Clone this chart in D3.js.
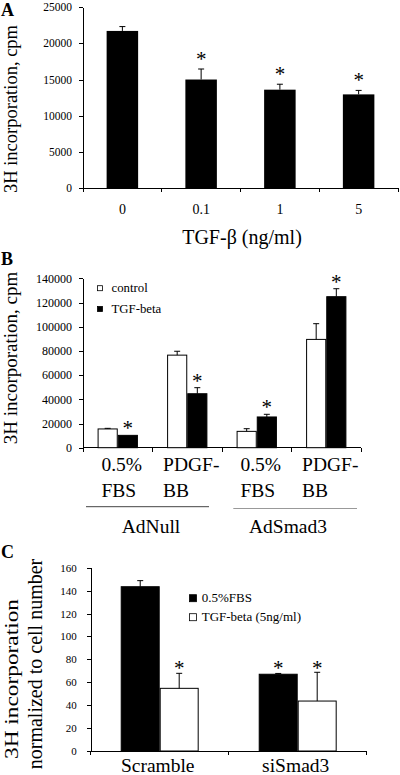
<!DOCTYPE html>
<html>
<head>
<meta charset="utf-8">
<script src="https://cdn.jsdelivr.net/npm/d3@7/dist/d3.min.js"></script>
<style>
  html, body { margin: 0; padding: 0; background: #fff; }
  svg { display: block; }
  svg text { font-family: "Liberation Serif", "Times New Roman", Times, serif; }
  .axis path, .axis line { stroke: #000; stroke-width: 1; shape-rendering: crispEdges; }
</style>
</head>
<body>
<svg id="chart" width="400" height="775"></svg>
<script>
// ---------- Panel A data ----------
const A_categories = ["0", "0.1", "1", "5"];
const A_values = [21700, 15000, 13600, 12950];
const A_errors = [600, 1450, 750, 550];
const A_sig = [false, true, true, true];
const A_yTicks = [0, 5000, 10000, 15000, 20000, 25000];
const A_xTitle = "TGF-β (ng/ml)";
const A_yTitle = "3H incorporation, cpm";

// ---------- Panel B data ----------
const B_labels = [["0.5%", "FBS"], ["PDGF-", "BB"], ["0.5%", "FBS"], ["PDGF-", "BB"]];
const B_series = ["control", "TGF-beta"];
const B_control = [15500, 76500, 13500, 89500];
const B_controlErr = [500, 3200, 2200, 13000];
const B_tgf = [10200, 44600, 25400, 124800];
const B_tgfErr = [0, 5000, 2200, 6600];
const B_tgfSig = [true, true, true, true];
const B_vectors = ["AdNull", "AdSmad3"];
const B_yTicks = [0, 20000, 40000, 60000, 80000, 100000, 120000, 140000];
const B_yTitle = "3H incorporation, cpm";

// ---------- Panel C data ----------
const C_categories = ["Scramble", "siSmad3"];
const C_series = ["0.5%FBS", "TGF-beta (5ng/ml)"];
const C_fbs = [143.4, 67];
const C_fbsErr = [5.3, 0.7];
const C_fbsSig = [false, true];
const C_tgf = [54.7, 43.6];
const C_tgfErr = [13.1, 25.1];
const C_tgfSig = [true, true];
const C_yTicks = [0, 20, 40, 60, 80, 100, 120, 140, 160];
const C_yTitle = ["3H incorporation", "normalized to cell number"];

const FONT = '"Liberation Serif", "Times New Roman", Times, serif';
const svg = d3.select("#chart").attr("font-family", FONT);
const STAR = 21;

function errorBar(g, x, yTop, yErr, cap) {
  if (Math.abs(yTop - yErr) < 0.5) return;
  g.append("line").attr("x1", x).attr("x2", x).attr("y1", yTop).attr("y2", yErr)
    .attr("stroke", "#000").attr("stroke-width", 1);
  g.append("line").attr("x1", x - cap / 2).attr("x2", x + cap / 2).attr("y1", yErr).attr("y2", yErr)
    .attr("stroke", "#000").attr("stroke-width", 1);
}
function star(g, x, yCenter) {
  g.append("text").attr("x", x).attr("y", yCenter + 0.48 * STAR).attr("font-family", FONT)
    .attr("text-anchor", "middle").attr("font-size", STAR).text("*");
}
function txt(g) { return g.append("text").attr("font-family", FONT).attr("fill", "#000"); }
function panelLabel(t, y) {
  txt(svg).attr("x", 1).attr("y", y).attr("font-size", 18).attr("font-weight", "bold").text(t);
}
function bandTicks(g, xScale, y0, len) {
  const step = xScale.step();
  const half = step * xScale.paddingInner() / 2;
  const dom = xScale.domain();
  const pos = dom.map(d => xScale(d) - half);
  pos.push(xScale(dom[dom.length - 1]) + xScale.bandwidth() + half);
  pos.forEach(p => g.append("line").attr("x1", p).attr("x2", p).attr("y1", y0).attr("y2", y0 + len)
    .attr("stroke", "#000").attr("shape-rendering", "crispEdges"));
}
function styleAxis(sel, size) {
  sel.attr("font-family", FONT);
  sel.selectAll("text").attr("font-family", FONT).attr("font-size", size).attr("fill", "#000");
}

// ================= Panel A =================
{
  const g = svg.append("g");
  const x = d3.scaleBand().domain(A_categories).range([83, 398]).paddingInner(0.6).paddingOuter(0.3);
  const y = d3.scaleLinear().domain([0, 25000]).range([188.3, 7]);
  const yAxis = g.append("g").attr("class", "axis").attr("transform", "translate(83,0)")
    .call(d3.axisLeft(y).tickValues(A_yTicks).tickSize(4).tickSizeOuter(0).tickPadding(7).tickFormat(d3.format("d")));
  styleAxis(yAxis, 11.5);
  const xAxis = g.append("g").attr("class", "axis").attr("transform", "translate(0,188.3)")
    .call(d3.axisBottom(x).tickSize(0).tickSizeOuter(0).tickPadding(15.5));
  xAxis.select(".domain").attr("d", "M83,0H398");
  styleAxis(xAxis, 14);
  bandTicks(g, x, 188.3, 4);

  g.selectAll("rect.bar").data(A_values).join("rect").attr("class", "bar")
    .attr("x", (d, i) => x(A_categories[i])).attr("width", x.bandwidth())
    .attr("y", d => y(d)).attr("height", d => y(0) - y(d)).attr("fill", "#000");
  A_values.forEach((v, i) => {
    const cx = x(A_categories[i]) + x.bandwidth() / 2;
    errorBar(g, cx, y(v), y(v + A_errors[i]), 6);
    if (A_sig[i]) star(g, cx, y(v + A_errors[i]) - 13);
  });
  txt(g).attr("x", 242).attr("y", 243.5).attr("text-anchor", "middle")
    .attr("font-size", 20).text(A_xTitle);
  txt(g).attr("transform", "translate(16.5,109) rotate(-90)").attr("text-anchor", "middle")
    .attr("font-size", 18.5).text(A_yTitle);
  panelLabel("A", 15.5);
}

// ================= Panel B =================
{
  const g = svg.append("g");
  const idx = d3.range(B_labels.length);
  const x = d3.scaleBand().domain(idx).range([83, 361]).paddingInner(0.42).paddingOuter(0.21);
  const xi = d3.scaleBand().domain(B_series).range([0, x.bandwidth()]);
  const y = d3.scaleLinear().domain([0, 140000]).range([447.7, 278.3]);
  const yAxis = g.append("g").attr("class", "axis").attr("transform", "translate(83,0)")
    .call(d3.axisLeft(y).tickValues(B_yTicks).tickSize(4).tickSizeOuter(0).tickPadding(7).tickFormat(d3.format("d")));
  styleAxis(yAxis, 12);
  const xAxis = g.append("g").attr("class", "axis").attr("transform", "translate(0,447.7)")
    .call(d3.axisBottom(x).tickSize(0).tickSizeOuter(0).tickFormat(() => ""));
  xAxis.select(".domain").attr("d", "M83,0H361");
  bandTicks(g, x, 447.7, 4);
  // two-line category labels, left aligned block centred under each group
  idx.forEach(i => {
    const cx = x(i) + x.bandwidth() / 2;
    const t = txt(g).attr("font-size", 19.5);
    B_labels[i].forEach((line, k) => {
      t.append("tspan").attr("y", 471 + k * 26).text(line);
    });
    const w = d3.max(t.selectAll("tspan").nodes(), n => n.getComputedTextLength());
    t.selectAll("tspan").attr("x", cx - w / 2 + 4);
  });

  const data = idx.map(i => [
    {s: B_series[0], v: B_control[i], e: B_controlErr[i], sig: false, fill: "#fff"},
    {s: B_series[1], v: B_tgf[i], e: B_tgfErr[i], sig: B_tgfSig[i], fill: "#000"}
  ]);
  idx.forEach(i => {
    data[i].forEach(d => {
      const bx = x(i) + xi(d.s);
      g.append("rect").attr("x", bx + 0.5).attr("y", y(d.v)).attr("width", xi.bandwidth() - 1)
        .attr("height", y(0) - y(d.v)).attr("fill", d.fill).attr("stroke", "#000").attr("stroke-width", 1);
      const cx = bx + xi.bandwidth() / 2;
      errorBar(g, cx, y(d.v), y(d.v + d.e), 6);
      if (d.sig) star(g, cx, y(d.v + d.e) - 10);
    });
  });
  // legend
  const leg = [{t: B_series[0], fill: "#fff", y: 291.7}, {t: B_series[1], fill: "#000", y: 312.5}];
  leg.forEach(l => {
    g.append("rect").attr("x", 97.5).attr("y", l.y - 6).attr("width", 5).attr("height", 5)
      .attr("fill", l.fill).attr("stroke", "#000").attr("stroke-width", 0.8);
    txt(g).attr("x", 111.5).attr("y", l.y).attr("font-size", 12.8).text(l.t);
  });
  // vector groups
  const vx = [[86, 209, 151, "#444", 506.7], [233.3, 357, 288, "#999", 508.5]];
  B_vectors.forEach((v, k) => {
    g.append("line").attr("x1", vx[k][0]).attr("x2", vx[k][1]).attr("y1", vx[k][4]).attr("y2", vx[k][4])
      .attr("stroke", vx[k][3]).attr("stroke-width", 1);
    txt(g).attr("x", vx[k][2]).attr("y", 533.3).attr("text-anchor", "middle")
      .attr("font-size", 19.5).text(v);
  });
  txt(g).attr("transform", "translate(17,358) rotate(-90)").attr("text-anchor", "middle")
    .attr("font-size", 19).text(B_yTitle);
  panelLabel("B", 265);
}

// ================= Panel C =================
{
  const g = svg.append("g");
  const x = d3.scaleBand().domain(C_categories).range([90.7, 366.7]).paddingInner(0.435).paddingOuter(0.2175);
  const xi = d3.scaleBand().domain(C_series).range([0, x.bandwidth()]);
  const y = d3.scaleLinear().domain([0, 160]).range([751, 567.7]);
  const yAxis = g.append("g").attr("class", "axis").attr("transform", "translate(90.7,0)")
    .call(d3.axisLeft(y).tickValues(C_yTicks).tickSize(4).tickSizeOuter(0).tickPadding(10));
  styleAxis(yAxis, 11);
  const xAxis = g.append("g").attr("class", "axis").attr("transform", "translate(0,751)")
    .call(d3.axisBottom(x).tickSize(0).tickSizeOuter(0).tickPadding(7.5));
  xAxis.select(".domain").attr("d", "M90.7,0H366.7");
  styleAxis(xAxis, 19.5);
  xAxis.selectAll("text").attr("dx", -2);
  bandTicks(g, x, 751, 4);

  C_categories.forEach((c, i) => {
    const rows = [
      {s: C_series[0], v: C_fbs[i], e: C_fbsErr[i], sig: C_fbsSig[i], fill: "#000"},
      {s: C_series[1], v: C_tgf[i], e: C_tgfErr[i], sig: C_tgfSig[i], fill: "#fff"}
    ];
    rows.forEach(d => {
      const bx = x(c) + xi(d.s);
      g.append("rect").attr("x", bx + 0.5).attr("y", y(d.v)).attr("width", xi.bandwidth() - 1)
        .attr("height", y(0) - y(d.v)).attr("fill", d.fill).attr("stroke", "#000").attr("stroke-width", 1);
      const cx = bx + xi.bandwidth() / 2;
      errorBar(g, cx, y(d.v), y(d.v + d.e), 6);
      if (d.sig) star(g, cx, 665);
    });
  });
  const leg = [{t: C_series[0], fill: "#000", y: 601.7}, {t: C_series[1], fill: "#fff", y: 620.7}];
  leg.forEach(l => {
    g.append("rect").attr("x", 189.5).attr("y", l.y - 7).attr("width", 7).attr("height", 7)
      .attr("fill", l.fill).attr("stroke", "#000").attr("stroke-width", 0.8);
    txt(g).attr("x", 201.7).attr("y", l.y).attr("font-size", 13).text(l.t);
  });
  txt(g).attr("transform", "translate(17.5,679) rotate(-90)").attr("text-anchor", "middle")
    .attr("font-size", 19.5).attr("textLength", 160).attr("lengthAdjust", "spacingAndGlyphs").text(C_yTitle[0]);
  txt(g).attr("transform", "translate(42,664) rotate(-90)").attr("text-anchor", "middle")
    .attr("font-size", 20).text(C_yTitle[1]);
  panelLabel("C", 558);
}
</script>
</body>
</html>
